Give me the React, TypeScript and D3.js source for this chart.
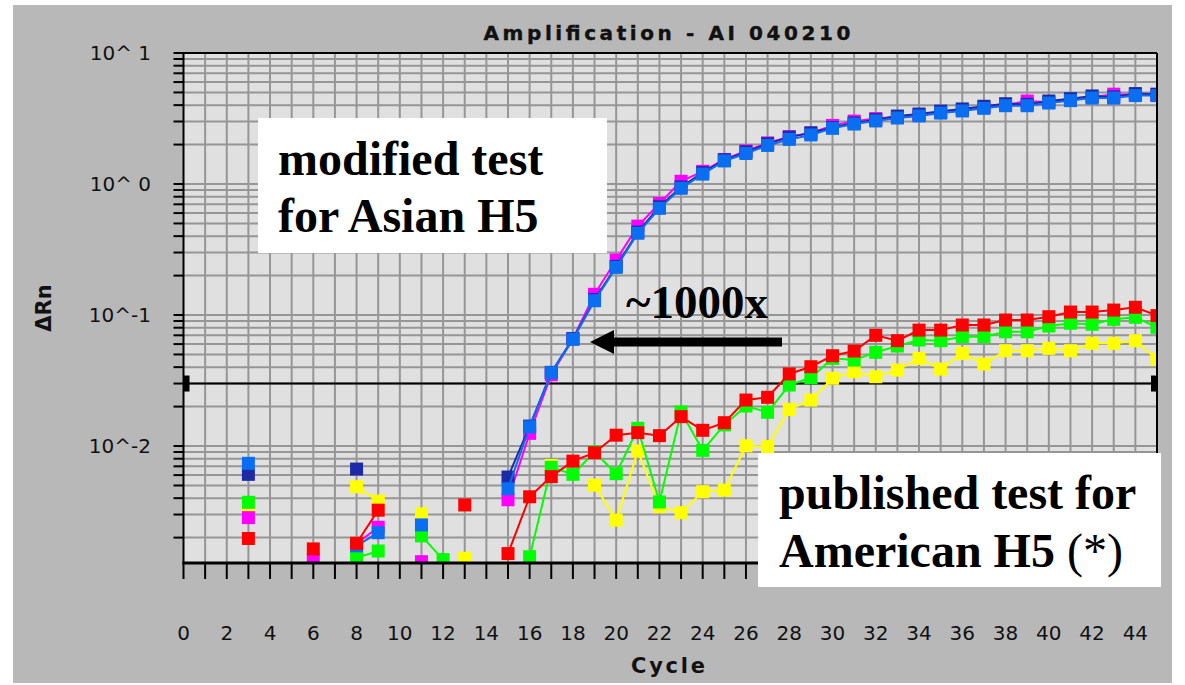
import React from "react";
import * as d3 from "d3";

const cycles = [0,1,2,3,4,5,6,7,8,9,10,11,12,13,14,15,16,17,18,19,20,21,22,23,24,25,26,27,28,29,30,31,32,33,34,35,36,37,38,39,40,41,42,43,44,45];
const N = null;

const darkBlue = [N,N,N,0.00608,N,N,N,N,0.00667,N,N,N,N,N,N,0.0058,0.0142,0.0365,0.066,0.131,0.235,0.43,0.67,0.95,1.22,1.53,1.76,2.03,2.28,2.46,2.70,2.92,3.10,3.30,3.42,3.60,3.74,3.92,4.10,4.05,4.30,4.48,4.70,4.62,4.90,4.85];
const lightBlue = [N,N,N,0.00738,N,N,N,N,0.00173,0.00218,N,0.0025,N,N,N,0.00472,0.0140,0.0363,0.0652,0.1285,0.231,0.421,0.652,0.927,1.19,1.50,1.71,1.97,2.19,2.37,2.66,2.87,3.03,3.19,3.31,3.48,3.61,3.78,3.96,3.96,4.15,4.33,4.53,4.53,4.73,4.73];
const magenta = [N,N,N,0.00284,N,N,0.00135,N,0.0018,0.0024,N,0.00131,N,N,N,0.00389,0.0125,0.035,0.066,0.144,0.263,0.477,0.71,1.05,1.25,1.54,1.79,2.06,2.30,2.44,2.80,3.02,3.16,3.25,3.36,3.52,3.66,3.84,4.02,4.30,4.20,4.40,4.60,4.85,4.80,4.80];
const green = [N,N,N,0.00372,N,N,N,N,0.0014,0.00158,N,0.00206,0.00136,N,N,N,0.00143,0.00687,0.00608,0.0090,0.00615,0.01365,0.00374,0.0182,0.00927,0.0145,0.0202,0.0181,0.0292,0.0332,0.0467,0.0453,0.0519,0.058,0.0644,0.0637,0.0683,0.0683,0.0745,0.0745,0.0824,0.0865,0.085,0.0927,0.096,0.0805];
const yellow = [N,N,N,0.00336,N,N,N,N,0.00489,0.0038,N,0.00304,N,0.00139,N,N,N,0.0071,N,0.00503,0.00272,0.00917,0.00344,0.0031,0.00448,0.00461,0.01004,0.0099,0.01905,0.02244,0.0329,0.0369,0.0338,0.038,0.0467,0.0387,0.051,0.0423,0.0534,0.0534,0.0557,0.0534,0.0608,0.0608,0.0637,0.046];
const red = [N,N,N,0.00197,N,N,0.00164,N,0.00181,0.00324,N,N,N,0.00355,N,0.00151,0.0041,0.00584,0.00767,0.00889,0.0121,0.01265,0.0120,0.01676,0.01318,0.01507,0.02244,0.02355,0.0355,0.0403,0.0489,0.0531,0.070,0.0637,0.0767,0.0767,0.0839,0.0839,0.0916,0.0916,0.0971,0.1054,0.1054,0.1091,0.1146,0.099];

const seriesNames = ["yellow", "green", "magenta", "darkBlue", "lightBlue", "red"];
const seriesValues = [yellow, green, magenta, darkBlue, lightBlue, red];
const seriesColors = ["#ffff00", "#00ff00", "#ff00ff", "#1c2aa6", "#0a6ef2", "#ff0000"];

const xTickLabels = [0,2,4,6,8,10,12,14,16,18,20,22,24,26,28,30,32,34,36,38,40,42,44];
const yDecadeValues = [10, 1, 0.1, 0.01];
const yDecadeLabels = ["10^ 1", "10^ 0", "10^-1", "10^-2"];
const threshold = 0.03;
const yMin = 0.00128;
const yMax = 10;
const xMax = 45;

const title = "Amplification - AI 040210";
const xTitle = "Cycle";
const yTitle = "\u0394Rn";

export default function App() {
  const W = 1185, H = 685;
  const left = 183.5, right = 1157, top = 53, bottom = 563;
  const x = d3.scaleLinear().domain([0, xMax]).range([left, right]);
  const y = d3.scaleLog().domain([yMin, yMax]).range([bottom, top]);

  const minor: number[] = [];
  for (let e = -3; e <= 0; e++) {
    for (let k = 1; k <= 9; k++) {
      const v = k * Math.pow(10, e);
      if (v >= yMin && v <= yMax) minor.push(v);
    }
  }
  minor.push(10);

  const line = d3
    .line<number | null>()
    .defined((d) => d != null)
    .x((_, i) => x(cycles[i]))
    .y((d) => y(d as number));

  const ms = 13;
  const font = "'DejaVu Sans', sans-serif";
  const serif = "'Liberation Serif', 'Times New Roman', serif";

  return (
    <svg width={W} height={H} style={{ position: "absolute", left: 0, top: 0, background: "#fff" }}>
      <defs>
        <clipPath id="plotClip">
          <rect x={left} y={top} width={right - left} height={bottom - top} />
        </clipPath>
      </defs>
      <rect x={13} y={5} width={1159} height={678} fill="#b8b8b8" />
      <text x={667} y={40} fontFamily={font} fontWeight="bold" fontSize={20} textAnchor="middle" textLength={367} lengthAdjust="spacing" fill="#111" stroke="#111" strokeWidth={0.4}>{title}</text>

      <rect x={left} y={top} width={right - left} height={bottom - top} fill="#e0e0e0" />
      {cycles.slice(1, -1).map((c) => (
        <line key={"vg" + c} x1={x(c)} x2={x(c)} y1={top} y2={bottom} stroke="#969696" strokeWidth={2} />
      ))}
      {minor.map((v, i) => (
        <line key={"hg" + i} x1={left} x2={right} y1={y(v)} y2={y(v)} stroke="#969696" strokeWidth={2} />
      ))}

      <g clipPath="url(#plotClip)">
        <line x1={left} x2={right} y1={y(threshold)} y2={y(threshold)} stroke="#000" strokeWidth={2} />
        {seriesValues.map((vals, si) => (
          <g key={seriesNames[si]}>
            <path d={line(vals) || ""} fill="none" stroke={seriesColors[si]} strokeWidth={2} />
            {vals.map((v, i) =>
              v == null ? null : (
                <rect key={i} x={x(cycles[i]) - ms / 2} y={y(v) - ms / 2} width={ms} height={ms} fill={seriesColors[si]} />
              )
            )}
          </g>
        ))}
      </g>
      <rect x={left} y={y(threshold) - 8} width={6} height={16} fill="#000" />
      <rect x={right - 6} y={y(threshold) - 8} width={6} height={16} fill="#000" />

      <line x1={left} x2={right} y1={top} y2={top} stroke="#000" strokeWidth={2} />
      <line x1={right} x2={right} y1={top} y2={bottom} stroke="#000" strokeWidth={2} />
      <line x1={left} x2={left} y1={top - 1} y2={bottom + 1} stroke="#000" strokeWidth={2} />
      <line x1={left - 1} x2={right + 1} y1={bottom} y2={bottom} stroke="#000" strokeWidth={3} />
      {minor.map((v, i) => (
        <line key={"yt" + i} x1={left - 10} x2={left} y1={y(v)} y2={y(v)} stroke="#000" strokeWidth={2} />
      ))}
      {cycles.map((c) => (
        <line key={"xt" + c} x1={x(c)} x2={x(c)} y1={bottom} y2={bottom + 16} stroke="#000" strokeWidth={2} />
      ))}
      {xTickLabels.map((c) => (
        <text key={"xl" + c} x={x(c)} y={640} fontFamily={font} fontSize={20} textAnchor="middle" fill="#111">{c}</text>
      ))}
      {yDecadeValues.map((v, i) => (
        <text key={"yl" + i} x={151} y={y(v) + 7} fontFamily={font} fontSize={20} textAnchor="end" fill="#111">{yDecadeLabels[i]}</text>
      ))}
      <text x={668} y={673} fontFamily={font} fontWeight="bold" fontSize={21} textAnchor="middle" textLength={74} lengthAdjust="spacing" fill="#111">{xTitle}</text>
      <text transform="translate(51,308) rotate(-90)" fontFamily={font} fontWeight="bold" fontSize={21} textAnchor="middle" fill="#111">{yTitle}</text>

      <rect x={258} y={118} width={349} height={135} fill="#fff" />
      <text x={278} y={175} fontFamily={serif} fontWeight="bold" fontSize={48} fill="#000">modified test</text>
      <text x={278} y={232} fontFamily={serif} fontWeight="bold" fontSize={48} fill="#000">for Asian H5</text>
      <text x={626} y={318} fontFamily={serif} fontWeight="bold" fontSize={47} fill="#000">~1000x</text>
      <line x1={782} x2={610} y1={342} y2={342} stroke="#000" strokeWidth={9} />
      <path d="M590,342 L614,330 L614,354 Z" fill="#000" />
      <rect x={758} y={453} width={403} height={134} fill="#fff" />
      <text x={779} y={509} fontFamily={serif} fontWeight="bold" fontSize={48} fill="#000">published test for</text>
      <text x={779} y={567} fontFamily={serif} fontWeight="bold" fontSize={48} fill="#000">American H5 <tspan fontWeight="normal">(*)</tspan></text>
    </svg>
  );
}
